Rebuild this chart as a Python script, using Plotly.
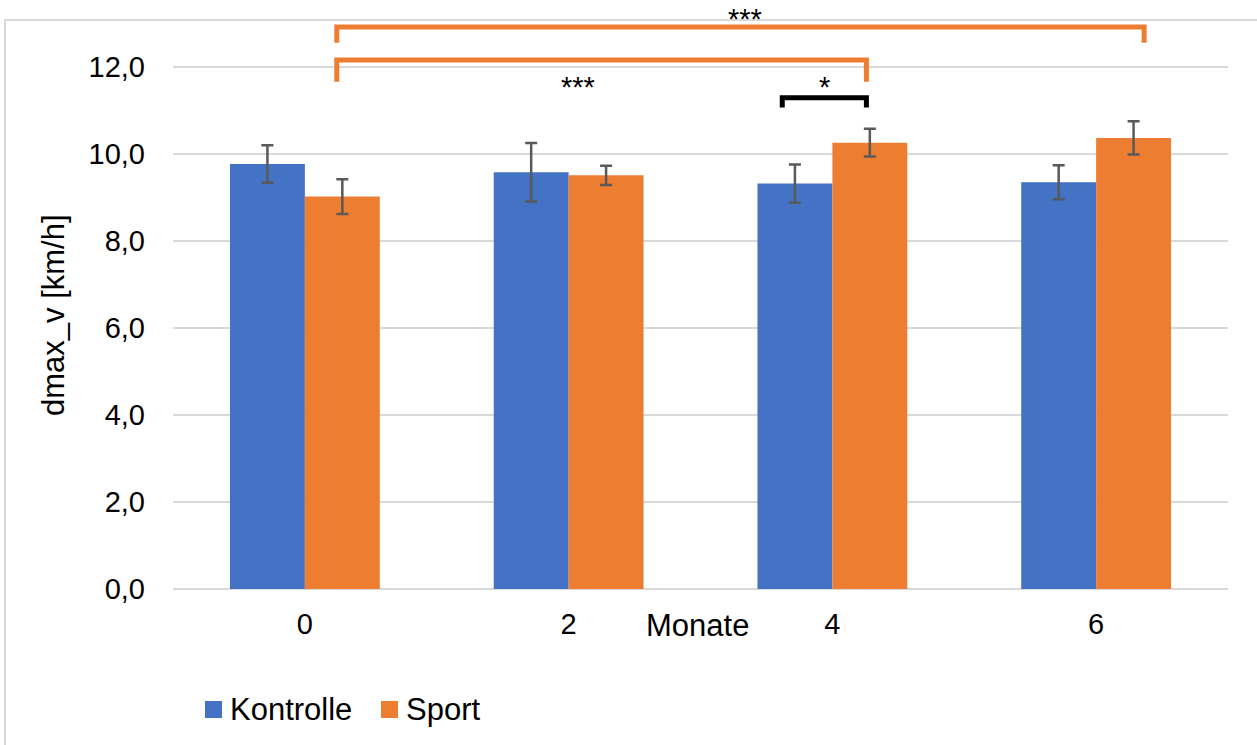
import plotly.graph_objects as go

# Measurement months and group means / SD of dmax_v
months = ["0", "2", "4", "6"]
kontrolle = [9.77, 9.58, 9.32, 9.35]
kontrolle_sd = [0.43, 0.67, 0.44, 0.39]
sport = [9.02, 9.51, 10.26, 10.37]
sport_sd = [0.40, 0.22, 0.32, 0.38]

y_ticks = [0, 2, 4, 6, 8, 10, 12]

BLUE = "#4472C4"
ORANGE = "#ED7D31"
GRID = "#D9D9D9"
FONT = "Liberation Sans, Arial, sans-serif"

W, H = 1257, 745
L, R, T, B = 173, 29, 5, 156
PW, PH = W - L - R, H - T - B


def px(xp):
    return (xp - L) / PW


def py(yp):
    return (H - B - yp) / PH


xpos = list(range(len(months)))

fig = go.Figure()
fig.add_trace(go.Bar(
    x=xpos, y=kontrolle, name="Kontrolle", marker=dict(color=BLUE, line=dict(width=0)),
    error_y=dict(type="data", array=kontrolle_sd, color="#595959", thickness=2.5, width=6),
    showlegend=False,
))
fig.add_trace(go.Bar(
    x=xpos, y=sport, name="Sport", marker=dict(color=ORANGE, line=dict(width=0)),
    error_y=dict(type="data", array=sport_sd, color="#595959", thickness=2.5, width=6),
    showlegend=False,
))

# Significance brackets: (x start, x end, bar y, leg drop, colour)
brackets = [
    (0.121, 3.182, 12.92, 0.36, ORANGE),
    (0.121, 2.129, 12.16, 0.50, ORANGE),
    (1.810, 2.129, 11.29, 0.22, "#000000"),
]
for x0, x1, yb, drop, col in brackets:
    fig.add_shape(
        type="path", xref="x", yref="y",
        path=f"M {x0},{yb - drop} L {x0},{yb} L {x1},{yb} L {x1},{yb - drop}",
        line=dict(color=col, width=5),
    )

stars = [(1.67, 13.10, "***"), (1.034, 11.54, "***"), (1.97, 11.54, "*")]
for sx, sy, txt in stars:
    fig.add_annotation(x=sx, y=sy, xref="x", yref="y", text=txt, showarrow=False,
                       xanchor="center", yanchor="middle",
                       font=dict(family=FONT, size=29, color="#000"))

# Chart-area border
fig.add_shape(type="rect", xref="paper", yref="paper",
              x0=px(5), x1=px(W + 10), y0=py(H + 10), y1=py(20),
              line=dict(color=GRID, width=2), layer="below")

# Axis titles
fig.add_annotation(x=px(697), y=py(625), xref="paper", yref="paper", text="Monate",
                   xanchor="center", yanchor="middle", showarrow=False,
                   font=dict(family=FONT, size=31, color="#000"))
fig.add_annotation(x=px(53), y=py(315), xref="paper", yref="paper", text="dmax_v [km/h]",
                   textangle=-90, xanchor="center", yanchor="middle", showarrow=False,
                   font=dict(family=FONT, size=31, color="#000"))

# Legend
legend_items = [("Kontrolle", BLUE, 205), ("Sport", ORANGE, 381)]
for label, col, x0 in legend_items:
    fig.add_shape(type="rect", xref="paper", yref="paper",
                  x0=px(x0), x1=px(x0 + 17), y0=py(718), y1=py(701),
                  fillcolor=col, line=dict(width=0))
    fig.add_annotation(x=px(x0 + 23), y=py(710), xref="paper", yref="paper", text=label,
                       xanchor="left", yanchor="middle", showarrow=False,
                       font=dict(family=FONT, size=31, color="#000"))

fig.update_layout(
    width=W, height=H,
    margin=dict(l=L, r=R, t=T, b=B),
    paper_bgcolor="white", plot_bgcolor="white",
    barmode="group", bargap=0.432, bargroupgap=0,
    separators=",.",
    font=dict(family=FONT, size=29, color="#000"),
    xaxis=dict(tickvals=xpos, ticktext=months, range=[-0.5, len(months) - 0.5],
               showgrid=False, showline=False, zeroline=False, ticks="",
               ticklabelstandoff=15, tickfont=dict(size=29, color="#000")),
    yaxis=dict(range=[0, 13.425], tickvals=y_ticks, tickformat=".1f",
               showgrid=True, gridcolor=GRID, gridwidth=2,
               zeroline=True, zerolinecolor=GRID, zerolinewidth=2,
               showline=False, ticks="", ticklabelstandoff=27,
               tickfont=dict(size=29, color="#000")),
)

fig.write_html("out.html")
